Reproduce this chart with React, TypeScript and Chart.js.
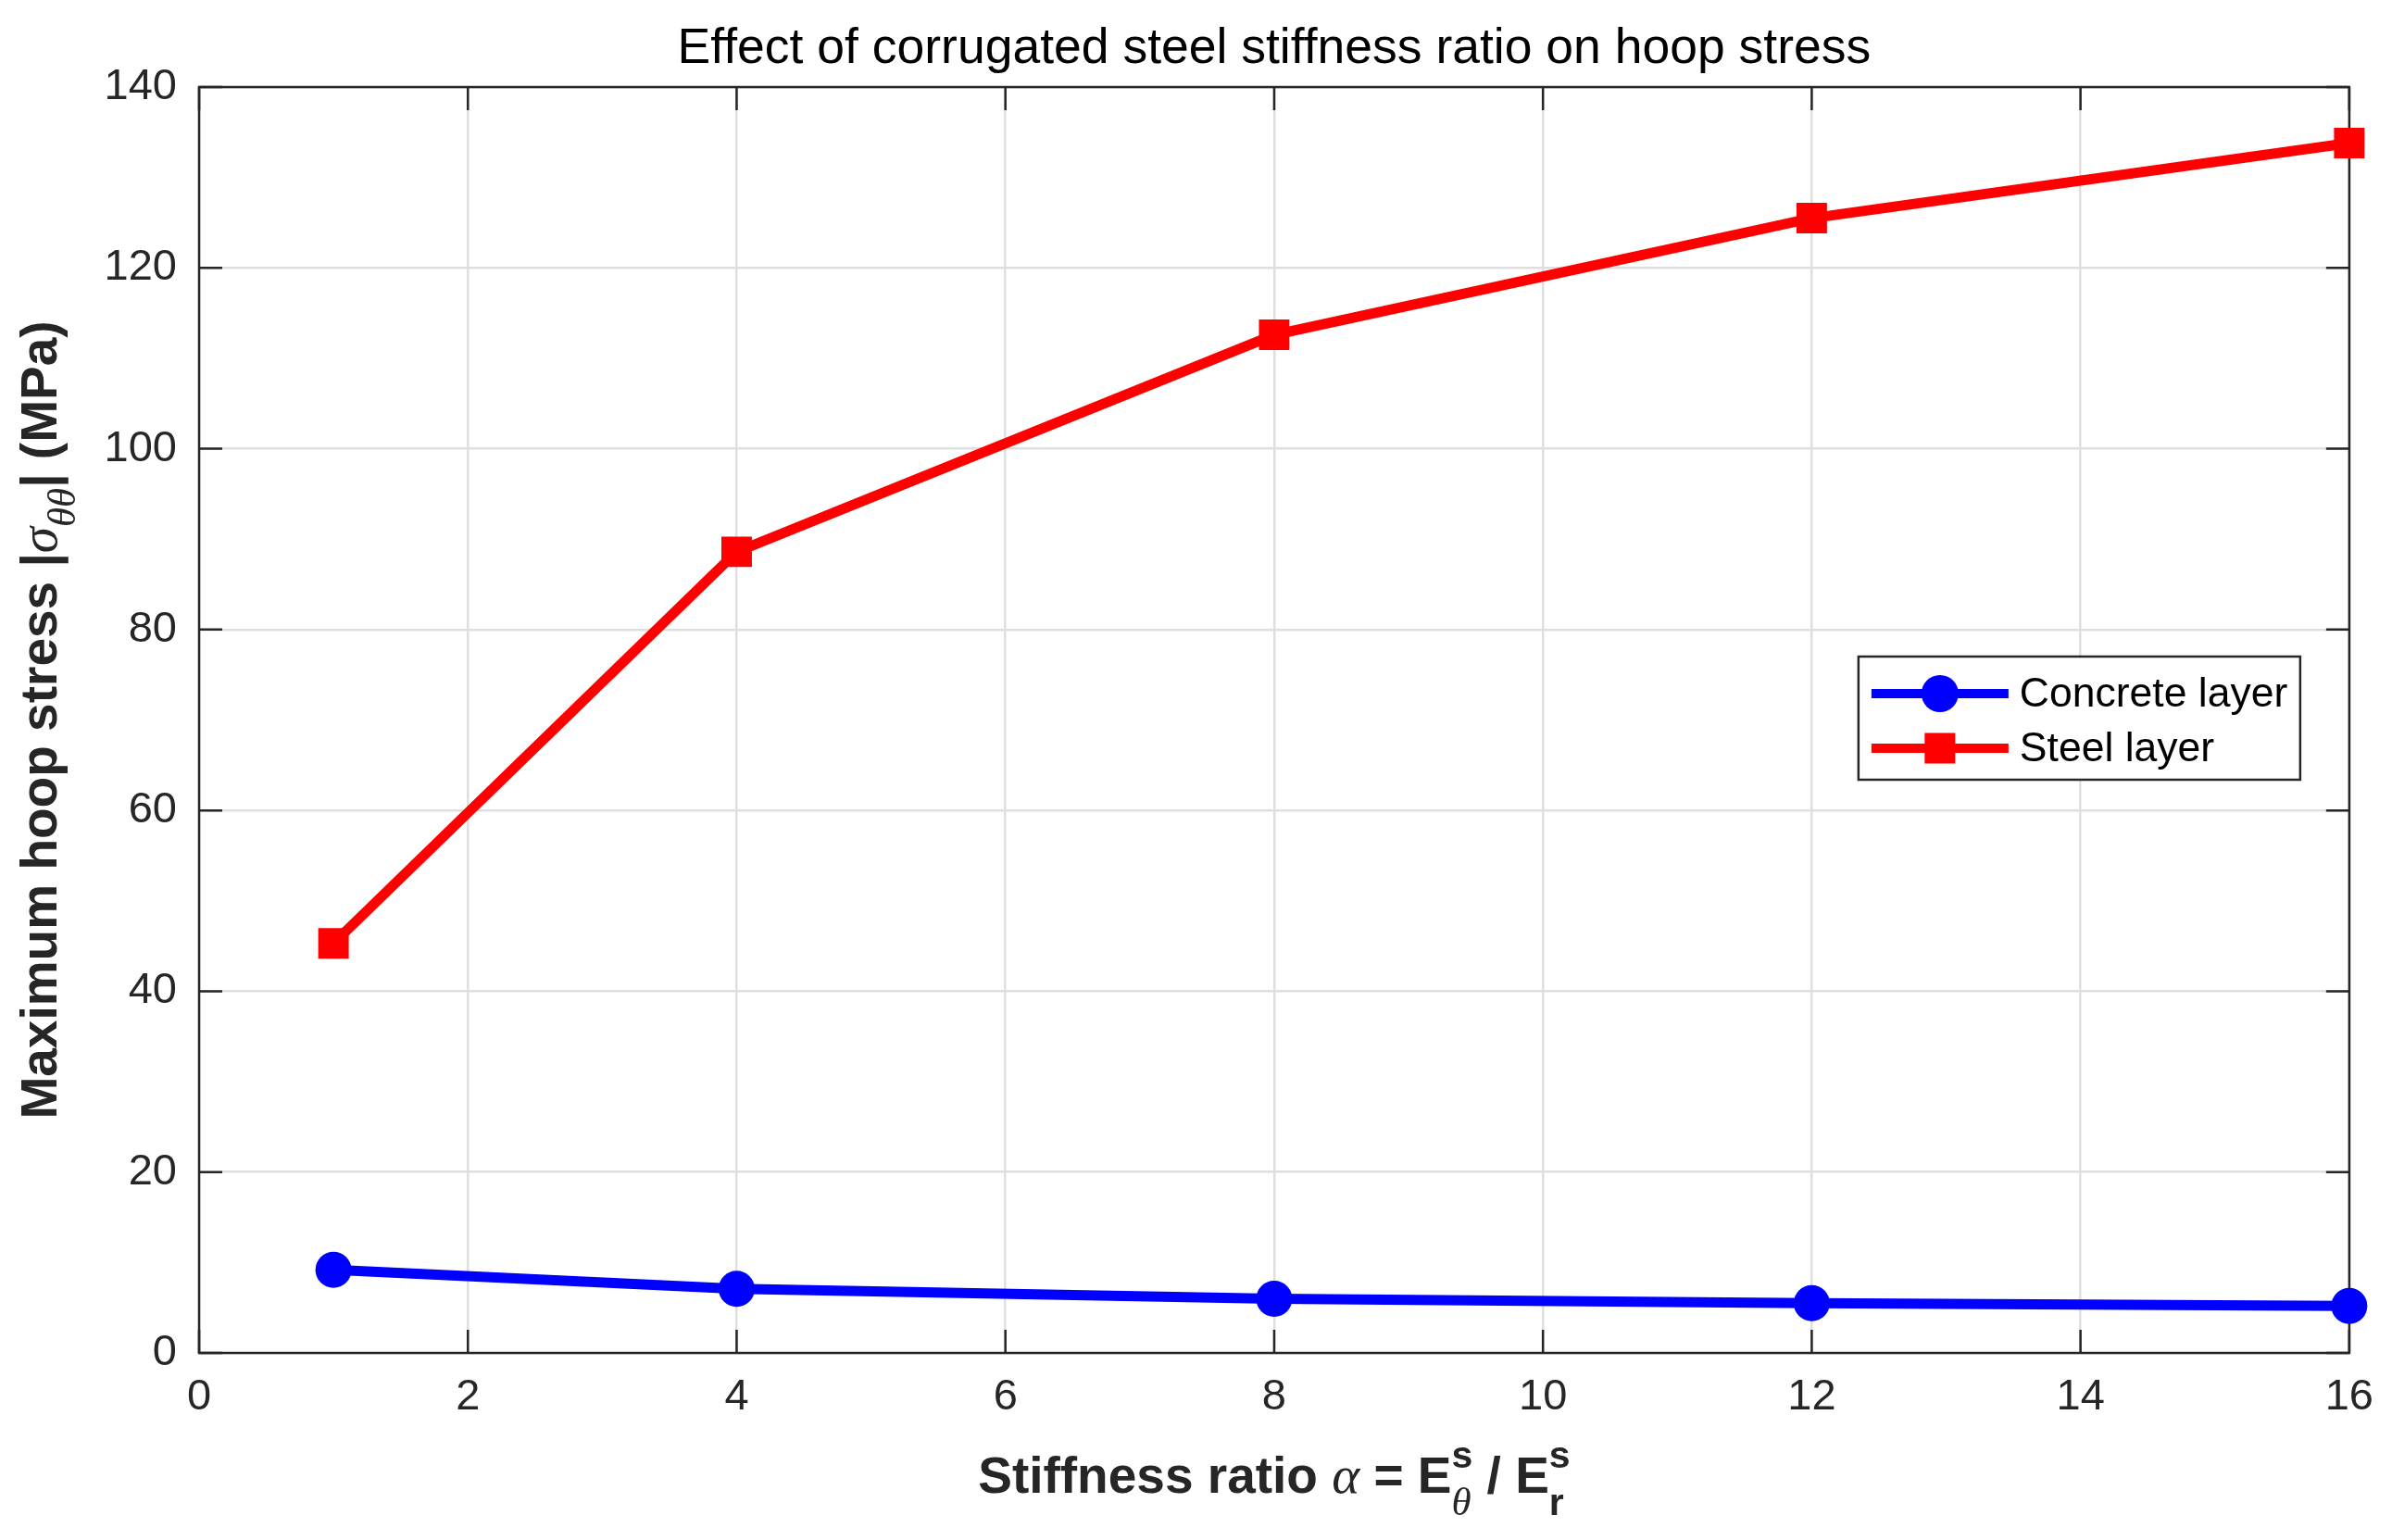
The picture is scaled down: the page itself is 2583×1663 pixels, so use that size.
import { useEffect, useRef } from 'react'
import { Chart, registerables } from 'chart.js'

Chart.register(...registerables)

// values
const stiffnessRatio = [1, 4, 8, 12, 16]
const concreteStress = [9.2, 7.1, 6.0, 5.5, 5.2]
const steelStress = [45.3, 88.6, 112.6, 125.5, 133.8]
const seriesNames = ['Concrete layer', 'Steel layer']
const chartTitle = 'Effect of corrugated steel stiffness ratio on hoop stress'

const AXIS_COLOR = '#262626'
const GRID_COLOR = '#dfdfdf'
const SANS = '"Liberation Sans", Arial, sans-serif'
const SERIF = '"Liberation Serif", "Times New Roman", serif'

const B = `bold 55px ${SANS}`
const Bs = `bold 41px ${SANS}`
const IS = `italic 57px ${SERIF}`
const ISs = `italic 43px ${SERIF}`

type Seg = { t: string; f: string; dy?: number; stack?: boolean }

const xLabel: Seg[] = [
  { t: 'Stiffness ratio ', f: B },
  { t: 'α', f: IS },
  { t: ' = E', f: B },
  { t: 's', f: Bs, dy: -27, stack: true },
  { t: 'θ', f: ISs, dy: 24 },
  { t: ' / E', f: B },
  { t: 's', f: Bs, dy: -27, stack: true },
  { t: 'r', f: Bs, dy: 24 },
]

const yLabel: Seg[] = [
  { t: 'Maximum hoop stress |', f: B },
  { t: 'σ', f: IS },
  { t: 'θθ', f: ISs, dy: 20 },
  { t: '| (MPa)', f: B },
]

function layoutRich(ctx, segs: Seg[]) {
  const out = []
  let x = 0
  let pending = 0
  for (const s of segs) {
    ctx.font = s.f
    const w = ctx.measureText(s.t).width
    out.push({ ...s, x })
    if (s.stack) {
      pending = w
    } else {
      x += Math.max(w, pending)
      pending = 0
    }
  }
  return { items: out, width: x }
}

function drawRich(ctx, segs: Seg[], cx: number, y: number) {
  const { items, width } = layoutRich(ctx, segs)
  const x0 = cx - width / 2
  ctx.textBaseline = 'alphabetic'
  ctx.textAlign = 'left'
  for (const it of items) {
    ctx.font = it.f
    ctx.fillText(it.t, x0 + it.x, y + (it.dy || 0))
  }
}

const framePlugin = {
  id: 'frame',
  beforeDatasetsDraw(chart) {
    const { ctx, chartArea: a, scales } = chart
    ctx.save()
    ctx.strokeStyle = AXIS_COLOR
    ctx.lineWidth = 2.5
    const tl = 25
    ctx.beginPath()
    scales.x.ticks.forEach((t) => {
      const px = scales.x.getPixelForValue(t.value)
      ctx.moveTo(px, a.bottom)
      ctx.lineTo(px, a.bottom - tl)
      ctx.moveTo(px, a.top)
      ctx.lineTo(px, a.top + tl)
    })
    scales.y.ticks.forEach((t) => {
      const py = scales.y.getPixelForValue(t.value)
      ctx.moveTo(a.left, py)
      ctx.lineTo(a.left + tl, py)
      ctx.moveTo(a.right, py)
      ctx.lineTo(a.right - tl, py)
    })
    ctx.stroke()
    ctx.strokeRect(a.left, a.top, a.right - a.left, a.bottom - a.top)
    ctx.restore()
  },
  afterDraw(chart) {
    const { ctx, chartArea: a } = chart
    const cx = (a.left + a.right) / 2
    ctx.save()
    // title
    ctx.fillStyle = '#000000'
    ctx.font = `53.5px ${SANS}`
    ctx.textAlign = 'center'
    ctx.textBaseline = 'alphabetic'
    ctx.fillText(chartTitle, cx, 68)
    // axis labels
    ctx.fillStyle = AXIS_COLOR
    drawRich(ctx, xLabel, cx, 1612)
    ctx.save()
    ctx.translate(61, (a.top + a.bottom) / 2)
    ctx.rotate(-Math.PI / 2)
    drawRich(ctx, yLabel, 0, 0)
    ctx.restore()

    // legend box
    const bx = a.right - 530
    const by = a.top + 615
    const bw = 477
    const bh = 133
    ctx.fillStyle = '#ffffff'
    ctx.fillRect(bx, by, bw, bh)
    ctx.strokeStyle = AXIS_COLOR
    ctx.lineWidth = 2.5
    ctx.strokeRect(bx, by, bw, bh)
    chart.data.datasets.forEach((ds, i) => {
      const ry = by + 40 + i * 59
      const lx0 = bx + 14
      const lx1 = bx + 162
      const mx = (lx0 + lx1) / 2
      ctx.strokeStyle = ds.borderColor
      ctx.lineWidth = 10
      ctx.beginPath()
      ctx.moveTo(lx0, ry)
      ctx.lineTo(lx1, ry)
      ctx.stroke()
      ctx.fillStyle = ds.backgroundColor
      if (ds.pointStyle === 'rect') {
        ctx.fillRect(mx - 16.5, ry - 16.5, 33, 33)
      } else {
        ctx.beginPath()
        ctx.arc(mx, ry, 20, 0, Math.PI * 2)
        ctx.fill()
      }
      ctx.fillStyle = '#000000'
      ctx.font = `44.5px ${SANS}`
      ctx.textAlign = 'left'
      ctx.textBaseline = 'middle'
      ctx.fillText(ds.label, bx + 174, ry + 2)
    })
    ctx.restore()
  },
}

export default function App() {
  const canvasRef = useRef(null)

  useEffect(() => {
    const toPoints = (ys: number[]) => stiffnessRatio.map((x, i) => ({ x, y: ys[i] }))
    const tickFont = { family: SANS, size: 47 }

    const chart = new Chart(canvasRef.current, {
      type: 'line',
      data: {
        datasets: [
          {
            label: seriesNames[0],
            data: toPoints(concreteStress),
            borderColor: '#0000ff',
            backgroundColor: '#0000ff',
            borderWidth: 11,
            pointStyle: 'circle',
            pointRadius: 19.5,
            pointBorderWidth: 0,
            clip: false,
          },
          {
            label: seriesNames[1],
            data: toPoints(steelStress),
            borderColor: '#ff0000',
            backgroundColor: '#ff0000',
            borderWidth: 11,
            pointStyle: 'rect',
            pointRadius: 23.3,
            pointBorderWidth: 0,
            clip: false,
          },
        ],
      },
      options: {
        animation: false,
        responsive: true,
        maintainAspectRatio: false,
        devicePixelRatio: 1,
        layout: { padding: { left: 0, right: 38, top: 94, bottom: 0 } },
        plugins: {
          legend: { display: false },
          title: { display: false },
          tooltip: { enabled: false },
        },
        elements: { line: { tension: 0 } },
        scales: {
          x: {
            type: 'linear',
            min: 0,
            max: 16,
            ticks: { stepSize: 2, font: tickFont, color: AXIS_COLOR, padding: 20, maxRotation: 0 },
            grid: { color: GRID_COLOR, lineWidth: 2.5, drawTicks: false },
            border: { display: false },
            afterFit: (s) => { s.height = 202 },
          },
          y: {
            type: 'linear',
            min: 0,
            max: 140,
            ticks: { stepSize: 20, font: tickFont, color: AXIS_COLOR, padding: 24 },
            grid: { color: GRID_COLOR, lineWidth: 2.5, drawTicks: false },
            border: { display: false },
            afterFit: (s) => { s.width = 215 },
          },
        },
      },
      plugins: [framePlugin],
    })

    return () => {
      chart.destroy()
    }
  }, [])

  return (
    <div style={{ position: 'absolute', left: 0, top: 0, width: 2583, height: 1663, background: '#fff' }}>
      <canvas ref={canvasRef} />
    </div>
  )
}
